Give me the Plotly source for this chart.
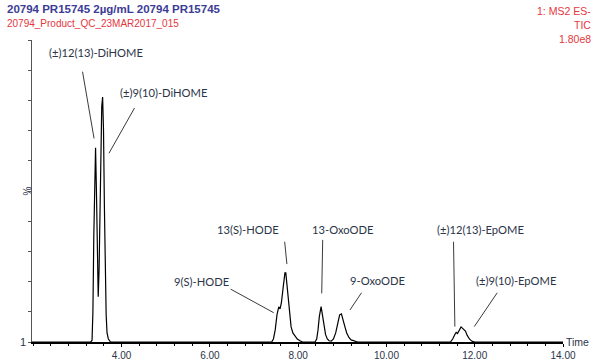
import plotly.graph_objects as go

# ---- data ----
time_min = [1.97, 3.30, 3.33, 3.35, 3.37, 3.39, 3.41, 3.43, 3.45, 3.47, 3.49, 3.51, 3.53, 3.55, 3.57,
            3.59, 3.61, 3.63, 3.65, 3.67, 3.70, 3.75,
            7.40, 7.44, 7.48, 7.52, 7.56, 7.59, 7.62, 7.66, 7.70, 7.72, 7.76, 7.80, 7.84, 7.88, 7.93, 7.98, 8.05, 8.10,
            8.38, 8.42, 8.45, 8.48, 8.52, 8.55, 8.58, 8.62, 8.66, 8.70, 8.75,
            8.80, 8.85, 8.90, 8.94, 8.98, 9.02, 9.06, 9.10, 9.15, 9.20, 9.28, 9.35,
            11.45, 11.50, 11.55, 11.58, 11.61, 11.65, 11.69, 11.72, 11.75, 11.79, 11.83, 11.88, 11.93, 12.00, 14.00]
intensity_pct = [0, 0, 0.5, 10, 35, 55, 64.3, 50, 26, 15, 24, 45, 65, 78, 81.1,
                 70, 45, 22, 9, 3, 1, 0,
                 0, 1, 4, 9, 11.6, 11, 13, 18, 22.9, 22.9, 17, 10, 5, 3, 2, 1, 0.3, 0,
                 0, 1, 4, 8.5, 11.7, 9, 5, 2.5, 1, 0.4, 0.3,
                 1, 3, 6.5, 9, 9.3, 7.5, 5, 3, 1.5, 0.7, 0.2, 0,
                 0, 1, 2.5, 3.2, 2.8, 4.2, 5.0, 4.6, 4.0, 3.6, 2.2, 1, 0.3, 0, 0]

peak_labels = ["(±)12(13)-DiHOME", "(±)9(10)-DiHOME", "13(S)-HODE", "13-OxoODE",
               "9(S)-HODE", "9-OxoODE", "(±)12(13)-EpOME", "(±)9(10)-EpOME"]
label_x = [3.41, 4.96, 6.87, 9.00, 5.81, 9.79, 12.12, 12.93]
label_y = [96.0, 82.5, 37.4, 37.4, 20.2, 20.5, 37.4, 20.5]
leader_x0 = [3.115, 4.293, 7.694, 8.556, 6.471, 9.435, 11.52, 12.51]
leader_y0 = [89.5, 77.5, 33.2, 33.8, 17.5, 16.3, 33.2, 16.3]
leader_x1 = [3.376, 3.714, 7.745, 8.534, 7.446, 9.173, 11.55, 11.99]
leader_y1 = [67.4, 62.5, 25.8, 16.1, 9.7, 10.6, 5.1, 5.1]

x_tick_vals = [4, 6, 8, 10, 12, 14]
x_tick_text = ["4.00", "6.00", "8.00", "10.00", "12.00", "14.00"]

title_line1 = "20794 PR15745 2µg/mL 20794 PR15745"
title_line2 = "20794_Product_QC_23MAR2017_015"
trace_info = ["1: MS2 ES-", "TIC", "1.80e8"]

fig = go.Figure()
fig.add_trace(go.Scatter(x=time_min, y=intensity_pct, mode="lines",
                         line=dict(color="black", width=1.2), hoverinfo="skip", showlegend=False))

for x0, y0, x1, y1 in zip(leader_x0, leader_y0, leader_x1, leader_y1):
    fig.add_shape(type="line", xref="x", yref="y", x0=x0, y0=y0, x1=x1, y1=y1,
                  line=dict(color="#3a3a3a", width=1))

for txt, lx, ly in zip(peak_labels, label_x, label_y):
    fig.add_annotation(x=lx, y=ly, xref="x", yref="y", text=txt, showarrow=False,
                       font=dict(family="Lato", size=11.2, color="#2b3448"))

blue = "#3c3c96"
red = "#e5363e"
fig.add_annotation(x=-0.051, y=1.1026, xref="paper", yref="paper", yanchor="middle", xanchor="left",
                   text="<b>%s</b>" % title_line1, showarrow=False,
                   font=dict(family="Liberation Sans", size=11.5, color=blue))
fig.add_annotation(x=-0.051, y=1.053, xref="paper", yref="paper", yanchor="middle", xanchor="left",
                   text=title_line2, showarrow=False,
                   font=dict(family="Liberation Sans", size=10, color=red))
info_y = [1.096, 1.05, 1.003]
for t, yy in zip(trace_info, info_y):
    fig.add_annotation(x=1.0565, y=yy, xref="paper", yref="paper", yanchor="middle",
                       xanchor="right", text=t, showarrow=False,
                       font=dict(family="Liberation Sans", size=10.5, color=red))

fig.add_annotation(x=0, y=0, xref="paper", yref="y", xanchor="right", xshift=-4, text="1",
                   showarrow=False, font=dict(family="Liberation Sans", size=11, color="#2b3448"))
fig.add_annotation(x=0, y=50, xref="paper", yref="y", xanchor="right", xshift=2, text="%",
                   textangle=-90, showarrow=False,
                   font=dict(family="Liberation Sans", size=10, color="#2b3448"))
fig.add_annotation(x=1, y=0, xref="paper", yref="y", xanchor="left", xshift=1, text="Time",
                   showarrow=False, font=dict(family="Liberation Sans", size=10.5, color="#2b3448"))

fig.update_layout(
    width=600, height=364,
    margin=dict(l=32, r=37, t=40, b=22),
    paper_bgcolor="white", plot_bgcolor="white",
    xaxis=dict(range=[1.97, 14.0], showgrid=False, zeroline=False, showline=True,
               linecolor="black", linewidth=1.5, ticks="outside", ticklen=3, tickcolor="black",
               tickvals=x_tick_vals, ticktext=x_tick_text, automargin=False,
               minor=dict(dtick=0.4, tick0=0, ticks="outside", ticklen=2, tickcolor="black"),
               tickfont=dict(family="Liberation Sans", size=10, color="#2b3448")),
    yaxis=dict(range=[0, 100], showgrid=False, zeroline=False, showline=True, automargin=False,
               linecolor="#555555", linewidth=1.2, ticks="outside", ticklen=3, tickcolor="#555555",
               dtick=10, showticklabels=False),
)

fig.write_html("out.html", config={"displayModeBar": False},
               post_script="document.body.style.margin='0px';")
